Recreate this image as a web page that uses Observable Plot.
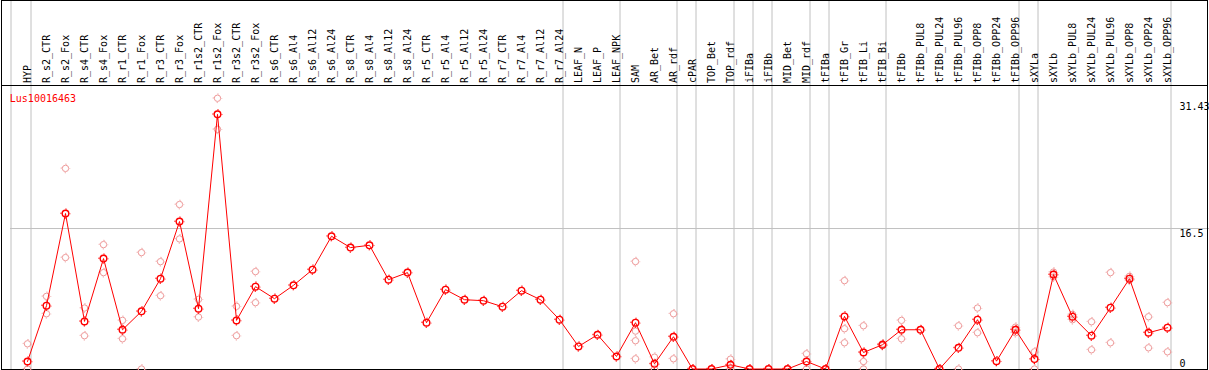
<!DOCTYPE html>
<html><head><meta charset="utf-8">
<script src="https://cdn.jsdelivr.net/npm/d3@7"></script>
<script src="https://cdn.jsdelivr.net/npm/@observablehq/plot@0.6"></script>
<style>html,body{margin:0;padding:0;background:#fff;} svg{display:block;}</style>
</head><body><div id="chart"></div>
<script>
const geneId = "Lus10016463";
const categories = ["HYP","R_s2_CTR","R_s2_Fox","R_s4_CTR","R_s4_Fox","R_r1_CTR","R_r1_Fox","R_r3_CTR","R_r3_Fox","R_r1s2_CTR","R_r1s2_Fox","R_r3s2_CTR","R_r3s2_Fox","R_s6_CTR","R_s6_Al4","R_s6_Al12","R_s6_Al24","R_s8_CTR","R_s8_Al4","R_s8_Al12","R_s8_Al24","R_r5_CTR","R_r5_Al4","R_r5_Al12","R_r5_Al24","R_r7_CTR","R_r7_Al4","R_r7_Al12","R_r7_Al24","LEAF_N","LEAF_P","LEAF_NPK","SAM","AR_Bet","AR_rdf","cPAR","TOP_Bet","TOP_rdf","iFIBa","iFIBb","MID_Bet","MID_rdf","tFIBa","tFIB_Gr","tFIB_Li","tFIB_Bi","tFIBb","tFIBb_PUL8","tFIBb_PUL24","tFIBb_PUL96","tFIBb_OPP8","tFIBb_OPP24","tFIBb_OPP96","sXYLa","sXYLb","sXYLb_PUL8","sXYLb_PUL24","sXYLb_PUL96","sXYLb_OPP8","sXYLb_OPP24","sXYLb_OPP96"];
const means = [0.88,7.44,18.26,5.59,12.97,4.61,6.77,10.61,17.32,7.08,29.91,5.71,9.67,
  8.26,9.83,11.67,15.59,14.26,14.53,10.49,11.32,5.44,9.32,8.14,8.02,7.32,9.20,8.14,5.79,
  2.65,4.02,1.47,5.44,0.61,3.79,0,0,0.49,0,0,0,0.88,0,
  6.18,1.94,2.85,4.61,4.61,0,2.49,5.79,0.92,4.61,
  1.16,11.09,6.14,3.91,7.20,10.61,4.26,4.85];
const replicates = [[2.96,0],[8.53,6.49],[23.56,13.09],[7.16,3.91],[14.61,11.32],[5.71,3.55],[13.67,0],[12.61,8.61],[19.32,15.28],[8.18,6.10],[31.80,28.15],[7.36,3.91],[11.44,7.79],
  [],[],[],[],[],[],[],[],[],[],[],[],[],[],[],[],[],[],[],
  [12.62,4.45,3.32,1.20],[1.39,0],[6.49,1.20],[],[],[1.16,0],[],[],[],[1.79,0],[],
  [10.38,4.73,3.08],[5.08,0.88,0],[2.96,2.75],[5.71,3.55],[],[],[5.08,0],[7.16,4.26],[],[4.92,4.26],
  [2.02,0],[11.39,10.80],[6.41,5.79],[5.55,2.26],[11.32,3.08],[10.89,10.42],[6.14,2.49],[7.79,2.02]];
const groupEnds = ["HYP","R_r7_Al24","LEAF_NPK","AR_rdf","cPAR","TOP_rdf","iFIBa","iFIBb","MID_rdf","tFIBa","tFIB_Bi","tFIBb_OPP96","sXYLa","sXYLb_OPP96"];
const yTicks = [0, 16.5, 31.43];
const yTickLabels = ["0", "16.5", "31.43"];

const meanRows = categories.map((c, i) => ({cat: c, value: means[i]}));
const repRows = categories.flatMap((c, i) => replicates[i].map(v => ({cat: c, value: v})));
const tickRows = yTicks.map((v, i) => ({value: v, label: yTickLabels[i]}));

const RED = "#ff0000", PINK = "#ee9a9a", GRID = "#c0c0c0";
const FONT = "'DejaVu Sans Mono', monospace";
function tickDash(r, L) { const q = 2 * Math.PI * r / 4; return `${L},${q - L}`; }

const chart = Plot.plot({
  width: 1209, height: 370,
  marginTop: 85, marginBottom: 1, marginLeft: 1, marginRight: 2,
  x: {type: "point", domain: categories, range: [26.5, 1166.5], padding: 0, align: 0.5, axis: null},
  y: {domain: [0, 31.43], range: [368.5, 100.9], axis: null},
  style: {fontFamily: FONT, fontSize: "10px", background: "white", color: "black"},
  marks: [
    Plot.ruleX(groupEnds, {x: d => d, dx: 3.5, stroke: GRID, insetTop: -85, insetBottom: -1}),
    Plot.ruleX([categories[0]], {x: d => d, dx: -16.5, stroke: GRID, insetTop: -85, insetBottom: -1}),
    Plot.ruleY([yTicks[1]], {y: d => d, stroke: GRID, insetLeft: 9, insetRight: -2}),
    Plot.frame({insetTop: -85, stroke: "black"}),
    Plot.frame({stroke: "black"}),
    Plot.text(categories, {x: d => d, text: d => d, frameAnchor: "top", rotate: -90, textAnchor: "start", lineAnchor: "bottom", dx: 3.5, dy: -2.5, fill: "black"}),
    Plot.text([geneId], {text: d => d, frameAnchor: "top-left", dx: 8.3, dy: 9.3, textAnchor: "start", lineAnchor: "top", fill: RED}),
    Plot.text(tickRows.filter(d => d.value > 0), {y: "value", text: "label", frameAnchor: "right", dx: -28, dy: 1.5, textAnchor: "start", lineAnchor: "top", fill: "black"}),
    Plot.text(tickRows.filter(d => d.value === 0), {y: "value", text: "label", frameAnchor: "right", dx: -28, dy: -2, textAnchor: "start", lineAnchor: "bottom", fill: "black"}),
    Plot.dot(repRows, {x: "cat", y: "value", r: 3.2, stroke: PINK, strokeWidth: 1, fill: "none"}),
    Plot.dot(repRows, {x: "cat", y: "value", r: 4.3, stroke: PINK, strokeWidth: 1, fill: "none", strokeDasharray: tickDash(4.3, 1.3), strokeDashoffset: 0.65}),
    Plot.line(meanRows, {x: "cat", y: "value", stroke: RED, strokeWidth: 1}),
    Plot.dot(meanRows, {x: "cat", y: "value", r: 3.3, stroke: RED, strokeWidth: 1.4, fill: "none"}),
    Plot.dot(meanRows, {x: "cat", y: "value", r: 4.5, stroke: RED, strokeWidth: 1.1, fill: "none", strokeDasharray: tickDash(4.5, 1.4), strokeDashoffset: 0.7})
  ]
});
document.getElementById("chart").appendChild(chart);
</script>
</body></html>
